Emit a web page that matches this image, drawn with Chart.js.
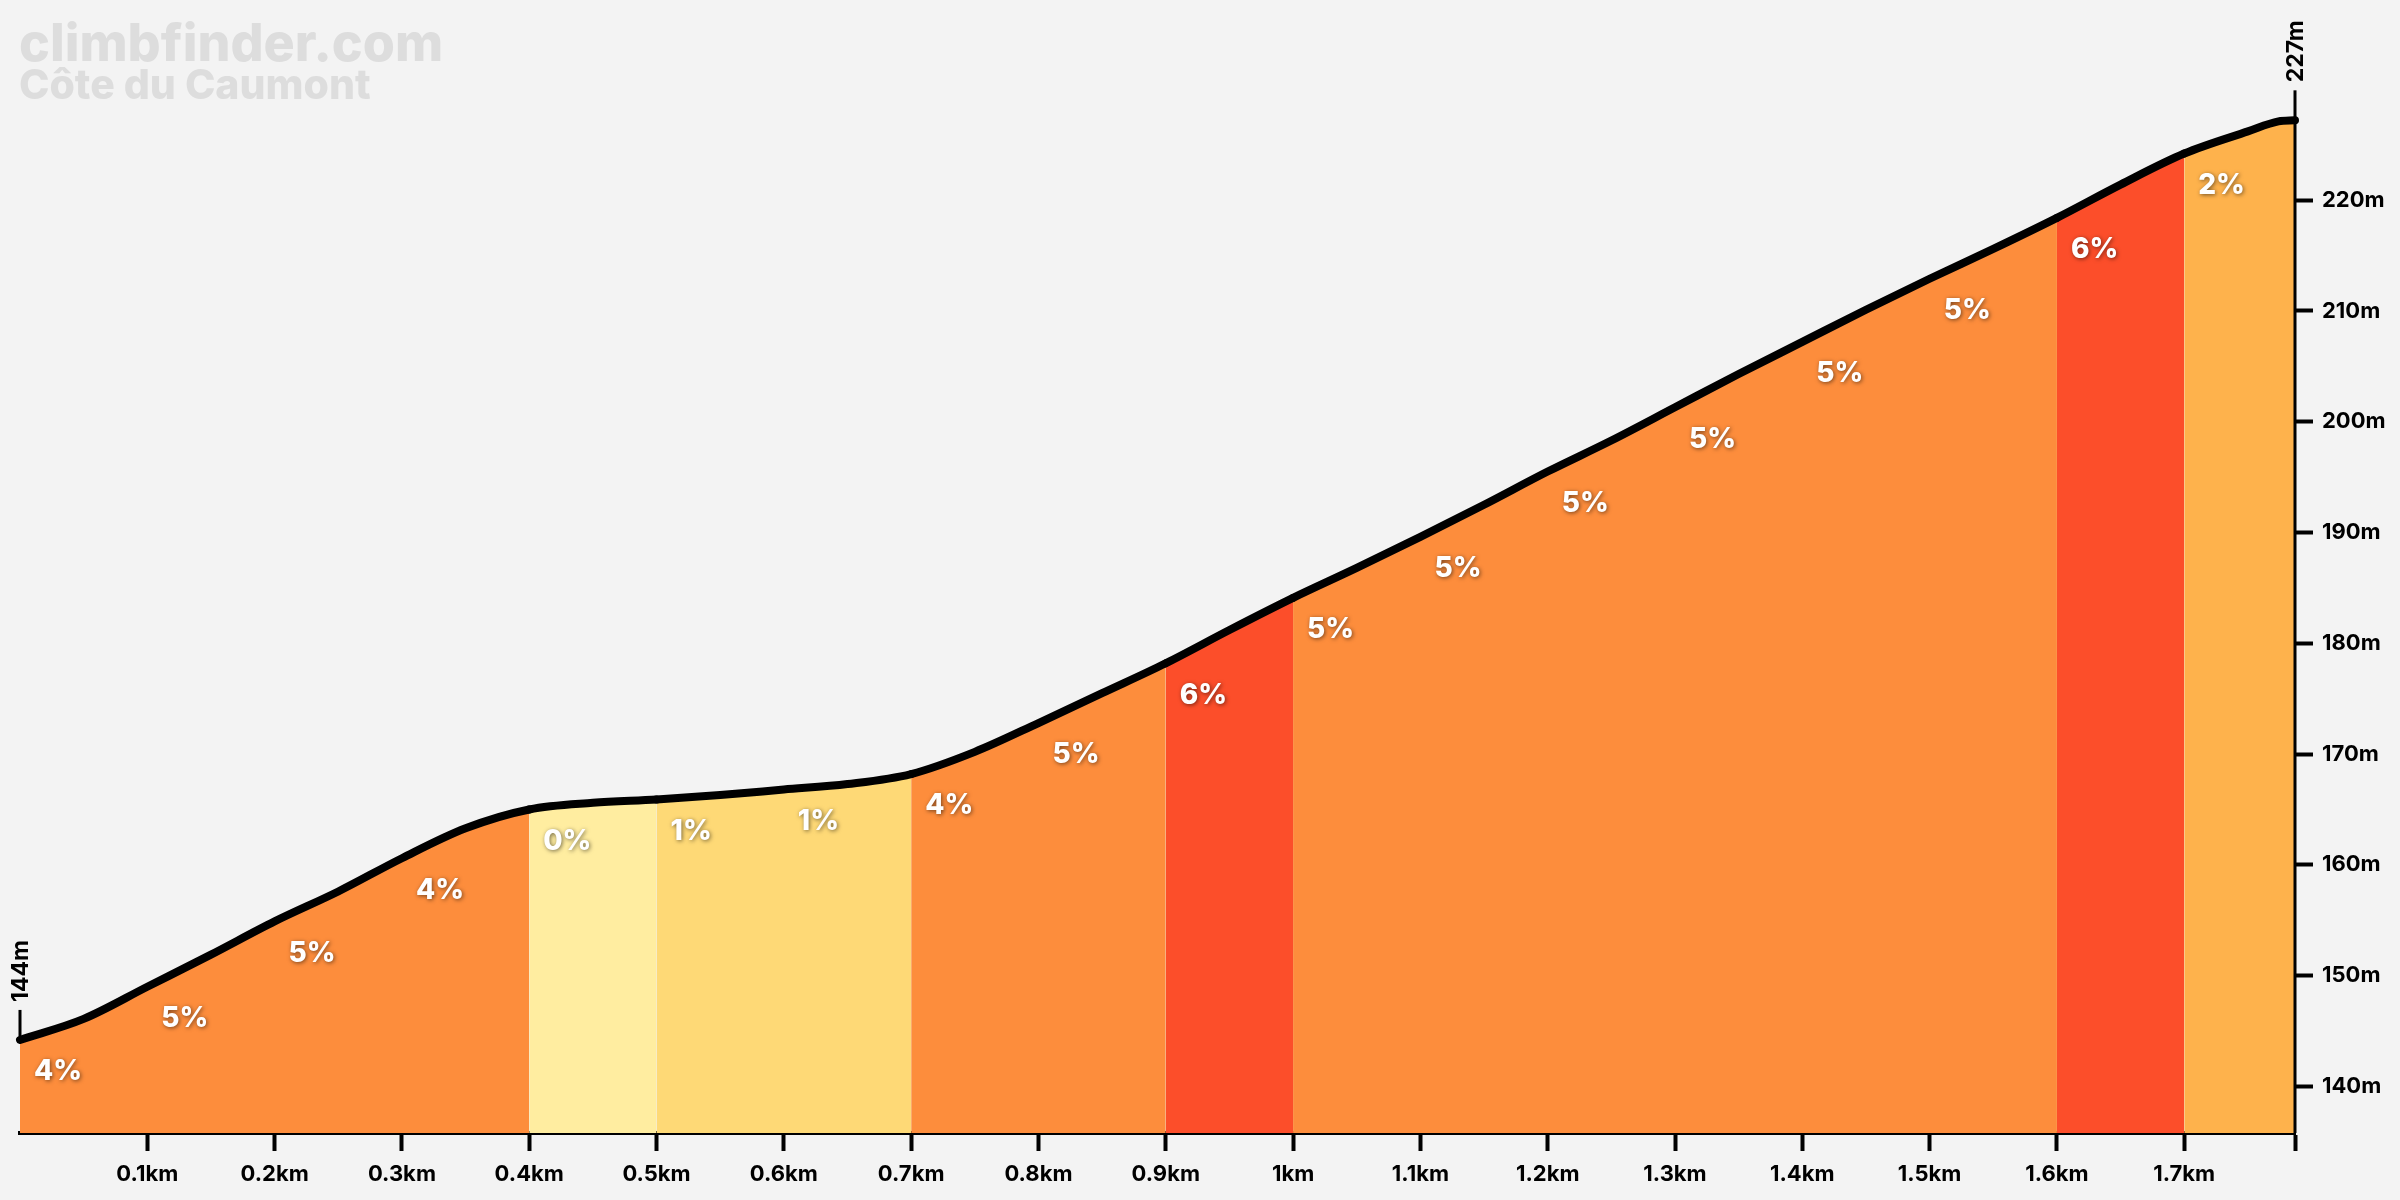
<!DOCTYPE html>
<html>
<head>
<meta charset="utf-8">
<title>Côte du Caumont</title>
<script src="https://cdn.jsdelivr.net/npm/chart.js@4.4.1/dist/chart.umd.min.js"></script>
<style>
    html, body { margin: 0; padding: 0; background: #f3f3f3; }
    #wrap { width: 2400px; height: 1200px; }
</style>
</head>
<body>
<div id="wrap"><canvas id="profileChart"></canvas></div>
<script>
// --- Profile data (km, m) ---
const distances = [0, 0.05, 0.1, 0.15, 0.2, 0.25, 0.3, 0.35, 0.4, 0.45, 0.5, 0.55, 0.6, 0.65, 0.7, 0.75,
    0.8, 0.85, 0.9, 0.95, 1.0, 1.05, 1.1, 1.15, 1.2, 1.25, 1.3, 1.35, 1.4, 1.45, 1.5, 1.55,
    1.6, 1.65, 1.7, 1.75, 1.774, 1.787];
const elevations = [144.2, 146.1, 149.0, 151.9, 154.9, 157.6, 160.6, 163.3, 165.0, 165.6, 165.9, 166.3, 166.8, 167.3, 168.2, 170.2,
    172.8, 175.5, 178.2, 181.2, 184.1, 186.8, 189.6, 192.5, 195.5, 198.3, 201.3, 204.3, 207.2, 210.1, 212.9, 215.6,
    218.4, 221.4, 224.2, 226.2, 227.1, 227.2];

// gradient per 100m section
const gradeStarts = [0, 0.1, 0.2, 0.3, 0.4, 0.5, 0.6, 0.7, 0.8, 0.9, 1.0, 1.1, 1.2, 1.3, 1.4, 1.5, 1.6, 1.7];
const gradeValues = [4, 5, 5, 4, 0, 1, 1, 4, 5, 6, 5, 5, 5, 5, 5, 5, 6, 2];

const distTicks = [0.1, 0.2, 0.3, 0.4, 0.5, 0.6, 0.7, 0.8, 0.9, 1.0, 1.1, 1.2, 1.3, 1.4, 1.5, 1.6, 1.7, 1.787];
const elevTicks = [140, 150, 160, 170, 180, 190, 200, 210, 220];

const climbName = 'Côte du Caumont';
const siteName = 'climbfinder.com';

const FONT = 'Inter, "Noto Sans", sans-serif';

function gradeColor(g) {
    if (g < 1) return '#ffeda0';
    if (g < 2) return '#fed976';
    if (g < 3) return '#feb24c';
    if (g < 6) return '#fd8d3c';
    return '#fc4e2a';
}

function gradeAt(km) {
    let i = gradeStarts.length - 1;
    while (i > 0 && km < gradeStarts[i] - 1e-9) i--;
    return gradeValues[i];
}

// --- labels, start/end markers and title ---
const profileDecor = {
    id: 'profileDecor',
    afterDatasetsDraw(chart) {
        const ctx = chart.ctx;
        const x = chart.scales.x;
        const y = chart.scales.y;
        const last = distances.length - 1;

        // right axis line, only up to the summit
        ctx.save();
        ctx.strokeStyle = '#000';
        ctx.lineWidth = 3;
        ctx.beginPath();
        ctx.moveTo(chart.chartArea.right, chart.chartArea.bottom);
        ctx.lineTo(chart.chartArea.right, y.getPixelForValue(elevations[last]));
        ctx.stroke();
        ctx.restore();

        // gradient labels
        ctx.save();
        ctx.font = '800 28px ' + FONT;
        ctx.textAlign = 'left';
        ctx.textBaseline = 'middle';
        ctx.fillStyle = '#ffffff';
        ctx.shadowColor = 'rgba(0,0,0,0.55)';
        ctx.shadowBlur = 4;
        ctx.shadowOffsetX = 1;
        ctx.shadowOffsetY = 1;
        gradeStarts.forEach((start, i) => {
            const idx = distances.findIndex(d => Math.abs(d - start) < 1e-6);
            const px = x.getPixelForValue(start) + 14;
            const py = y.getPixelForValue(elevations[idx]) + 32;
            ctx.fillText(gradeValues[i] + '%', px, py);
        });
        ctx.restore();

        // start / end elevation markers
        ctx.save();
        ctx.strokeStyle = '#000';
        ctx.fillStyle = '#000';
        ctx.lineWidth = 3;
        ctx.font = '700 23px ' + FONT;
        [0, last].forEach(i => {
            const mx = x.getPixelForValue(distances[i]);
            const my = y.getPixelForValue(elevations[i]);
            ctx.beginPath();
            ctx.moveTo(mx, my);
            ctx.lineTo(mx, my - 30);
            ctx.stroke();
            ctx.save();
            ctx.translate(mx + 1, my - 38);
            ctx.rotate(-Math.PI / 2);
            ctx.textAlign = 'left';
            ctx.textBaseline = 'middle';
            ctx.fillText(Math.round(elevations[i]) + 'm', 0, 0);
            ctx.restore();
        });
        ctx.restore();
    },
    afterDraw(chart) {
        const ctx = chart.ctx;
        ctx.save();
        ctx.fillStyle = '#dddddd';
        ctx.textAlign = 'left';
        ctx.textBaseline = 'alphabetic';
        ctx.font = '800 52px ' + FONT;
        ctx.fillText(siteName, 19, 61);
        ctx.font = '800 41px ' + FONT;
        ctx.fillText(climbName, 19, 99);
        ctx.restore();
    }
};

const canvas = document.getElementById('profileChart');

new Chart(canvas, {
    type: 'line',
    data: {
        datasets: [{
            data: distances.map((d, i) => ({ x: d, y: elevations[i] })),
            borderColor: '#000000',
            borderWidth: 8,
            borderCapStyle: 'round',
            borderJoinStyle: 'round',
            backgroundColor: '#fd8d3c',
            fill: 'start',
            pointRadius: 0,
            clip: false,
            cubicInterpolationMode: 'monotone',
            segment: {
                backgroundColor: c => gradeColor(gradeAt(c.p0.parsed.x))
            }
        }]
    },
    options: {
        responsive: true,
        maintainAspectRatio: false,
        animation: false,
        devicePixelRatio: 1,
        layout: { autoPadding: false, padding: { left: 20, top: 0, right: 0, bottom: 0 } },
        plugins: {
            legend: { display: false },
            tooltip: { enabled: false }
        },
        scales: {
            x: {
                type: 'linear',
                min: 0,
                max: 1.787,
                afterBuildTicks: s => { s.ticks = distTicks.map(v => ({ value: v })); },
                afterFit: s => { s.height = 67; s.paddingLeft = 0; s.paddingRight = 0; },
                border: { color: '#000', width: 4 },
                grid: {
                    drawOnChartArea: false,
                    drawTicks: true,
                    tickLength: 18,
                    tickWidth: 4,
                    tickColor: '#000'
                },
                ticks: {
                    autoSkip: false,
                    maxRotation: 0,
                    padding: 10,
                    color: '#000',
                    font: { family: FONT, size: 22, weight: '700' },
                    callback: v => (v > 1.75 ? '' : (Math.round(v * 10) / 10) + 'km')
                }
            },
            y: {
                position: 'right',
                min: 135.8,
                max: 238.06,
                afterBuildTicks: s => { s.ticks = elevTicks.map(v => ({ value: v })); },
                afterFit: s => { s.width = 105; s.paddingTop = 0; s.paddingBottom = 0; },
                border: { display: false },
                grid: {
                    drawOnChartArea: false,
                    drawTicks: true,
                    tickLength: 18,
                    tickWidth: 4,
                    tickColor: '#000'
                },
                ticks: {
                    padding: 9,
                    color: '#000',
                    font: { family: FONT, size: 22, weight: '700' },
                    callback: v => v + 'm'
                }
            }
        }
    },
    plugins: [profileDecor]
});
</script>
</body>
</html>
